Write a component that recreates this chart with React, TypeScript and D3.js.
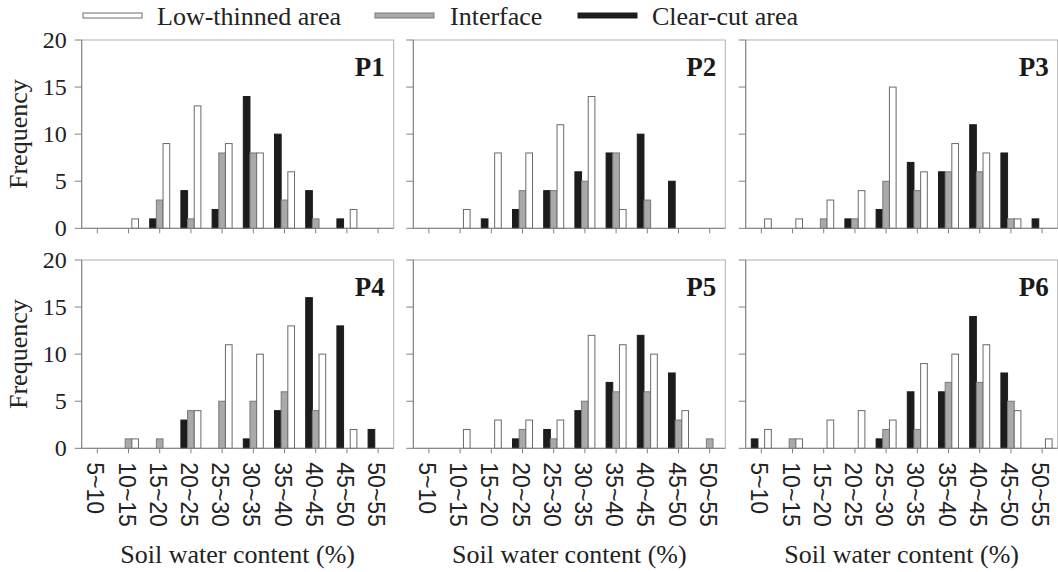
import * as d3 from "d3";

const categories = ["5~10", "10~15", "15~20", "20~25", "25~30", "30~35", "35~40", "40~45", "45~50", "50~55"];
const panelNames = ["P1", "P2", "P3", "P4", "P5", "P6"];
const yTicks = [0, 5, 10, 15, 20];

// one row per panel P1..P6
const clearCut = [
  [0, 0, 1, 4, 2, 14, 10, 4, 1, 0],
  [0, 0, 1, 2, 4, 6, 8, 10, 5, 0],
  [0, 0, 0, 1, 2, 7, 6, 11, 8, 1],
  [0, 0, 0, 3, 0, 1, 4, 16, 13, 2],
  [0, 0, 0, 1, 2, 4, 7, 12, 8, 0],
  [1, 0, 0, 0, 1, 6, 6, 14, 8, 0],
];
const interfaceZone = [
  [0, 0, 3, 1, 8, 8, 3, 1, 0, 0],
  [0, 0, 0, 4, 4, 5, 8, 3, 0, 0],
  [0, 0, 1, 1, 5, 4, 6, 6, 1, 0],
  [0, 1, 1, 4, 5, 5, 6, 4, 0, 0],
  [0, 0, 0, 2, 1, 5, 6, 6, 3, 1],
  [0, 1, 0, 0, 2, 2, 7, 7, 5, 0],
];
const lowThinned = [
  [0, 1, 9, 13, 9, 8, 6, 0, 2, 0],
  [0, 2, 8, 8, 11, 14, 2, 0, 0, 0],
  [1, 1, 3, 4, 15, 6, 9, 8, 1, 0],
  [0, 1, 0, 4, 11, 10, 13, 10, 2, 0],
  [0, 2, 3, 3, 3, 12, 11, 10, 4, 0],
  [2, 1, 3, 4, 3, 9, 10, 11, 4, 1],
];

const SERIES = [
  { key: "clear", label: "Clear-cut area", data: clearCut, fill: "#1c1c1c", stroke: "#1c1c1c" },
  { key: "interface", label: "Interface", data: interfaceZone, fill: "#a9a9a9", stroke: "#7a7a7a" },
  { key: "low", label: "Low-thinned area", data: lowThinned, fill: "#ffffff", stroke: "#6a6a6a" },
];

const LEGEND = [
  { key: "low", x: 83, tx: 157 },
  { key: "interface", x: 375, tx: 450 },
  { key: "clear", x: 578, tx: 652 },
];

const W = 312;
const H = 188.3;
const LEFTS = [81.7, 413.3, 745.7];
const TOPS = [40, 260];
const serif = "'Liberation Serif', 'Times New Roman', serif";
const sans = "'Liberation Sans', Arial, sans-serif";

const x = d3.scaleBand<string>().domain(categories).range([0, W]);
const sub = d3.scaleBand<string>().domain(SERIES.map((s) => s.key)).range([-10, 10]);
const y = d3.scaleLinear().domain([0, 20]).range([H, 0]);

function Panel({ idx }: { idx: number }) {
  const col = idx % 3;
  const row = Math.floor(idx / 3);
  const left = LEFTS[col];
  const top = TOPS[row];
  const cx = (c: string) => (x(c) ?? 0) + x.bandwidth() / 2;
  return (
    <g transform={`translate(${left},${top})`}>
      <rect x={0} y={0} width={W} height={H} fill="none" stroke="#b0b0b0" strokeWidth={1} />
      <line x1={0} x2={0} y1={0} y2={H} stroke="#808080" />
      {SERIES.map((s) =>
        s.data[idx].map((v, i) =>
          v > 0 ? (
            <rect
              key={s.key + i}
              x={cx(categories[i]) + (sub(s.key) ?? 0)}
              y={y(v)}
              width={sub.bandwidth()}
              height={H - y(v)}
              fill={s.fill}
              stroke={s.stroke}
              strokeWidth={1}
            />
          ) : null
        )
      )}
      <line x1={0} x2={W} y1={H} y2={H} stroke="#808080" />
      {yTicks.map((t) => (
        <line key={t} x1={-7} x2={0} y1={y(t)} y2={y(t)} stroke="#808080" />
      ))}
      {col === 0 &&
        yTicks.map((t) => (
          <text key={t} x={-15} y={y(t) + 8} textAnchor="end" fontFamily={serif} fontSize={24} fill="#222">
            {t}
          </text>
        ))}
      {categories.map((c) => (
        <line key={c} x1={cx(c)} x2={cx(c)} y1={H} y2={H + 5} stroke="#808080" />
      ))}
      {row === 1 &&
        categories.map((c) => (
          <text
            key={c}
            transform={`translate(${cx(c) - 2},${H + 14}) rotate(90)`}
            dominantBaseline="central"
            fontFamily={sans}
            fontSize={23}
            fill="#222"
          >
            {c}
          </text>
        ))}
      {row === 1 && (
        <text x={W / 2} y={H + 115} textAnchor="middle" fontFamily={serif} fontSize={26} fill="#222">
          Soil water content (%)
        </text>
      )}
      <text x={W - 9} y={36} textAnchor="end" fontFamily={serif} fontWeight="bold" fontSize={27} fill="#1a1a1a">
        {panelNames[idx]}
      </text>
    </g>
  );
}

export default function App() {
  return (
    <svg
      width={1058}
      height={572}
      style={{ position: "absolute", left: 0, top: 0, background: "#fff" }}
    >
      {LEGEND.map((l) => {
        const s = SERIES.find((d) => d.key === l.key)!;
        return (
          <g key={l.key}>
            <rect x={l.x} y={13} width={59} height={5} fill={s.fill} stroke={s.stroke} strokeWidth={1} />
            <text x={l.tx} y={25} fontFamily={serif} fontSize={26} fill="#222">
              {s.label}
            </text>
          </g>
        );
      })}
      {TOPS.map((t, r) => (
        <text
          key={r}
          transform={`translate(27,${t + H / 2}) rotate(-90)`}
          textAnchor="middle"
          fontFamily={serif}
          fontSize={26}
          fill="#222"
        >
          Frequency
        </text>
      ))}
      {panelNames.map((_, i) => (
        <Panel key={i} idx={i} />
      ))}
    </svg>
  );
}
